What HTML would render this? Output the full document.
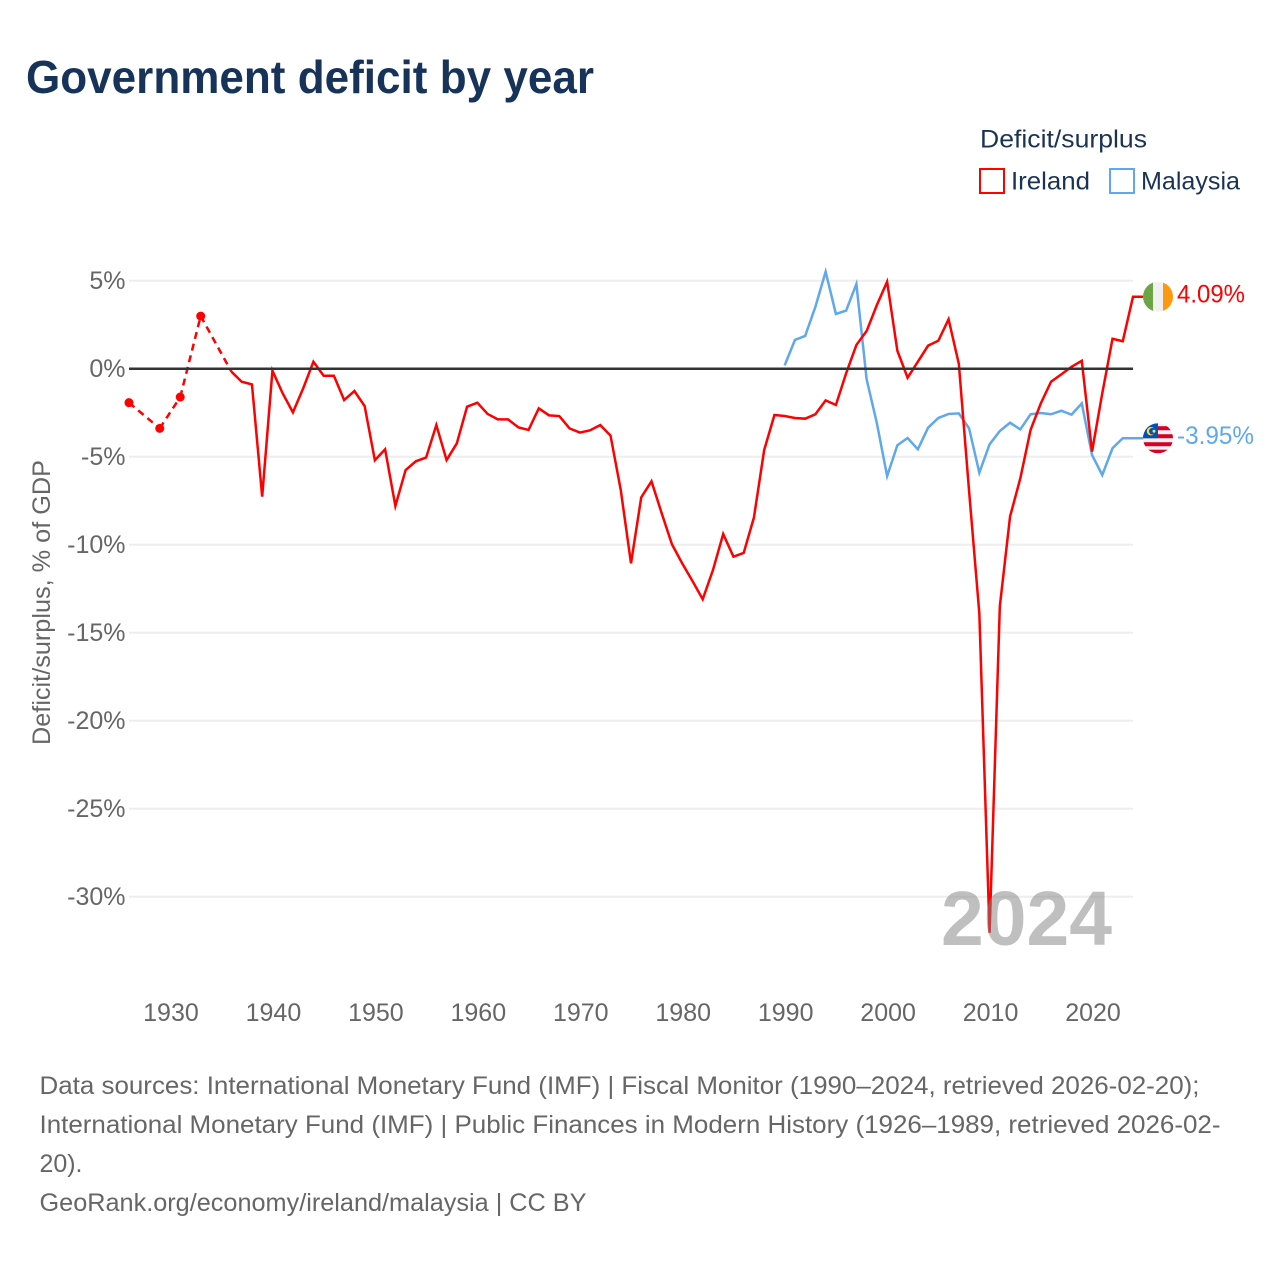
<!DOCTYPE html>
<html lang="en">
<head>
<meta charset="utf-8">
<title>Government deficit by year</title>
<style>
html,body{margin:0;padding:0;background:#fff;width:1280px;height:1280px;overflow:hidden}
svg{display:block}
text{font-family:"Liberation Sans",sans-serif}
.tick{font-size:25px;fill:#666}
.src{font-size:25px;fill:#666}
.leg{font-size:25px;fill:#1a3355}
</style>
</head>
<body>
<svg id="chart" width="1280" height="1280" viewBox="0 0 1280 1280" xmlns="http://www.w3.org/2000/svg">
  <defs>
    <clipPath id="clip-ie"><circle cx="0" cy="0" r="15"/></clipPath>
    <clipPath id="clip-my"><circle cx="0" cy="0" r="15"/></clipPath>
  </defs>
  <text x="26" y="93" font-size="46" font-weight="700" fill="#17335a" textLength="568" lengthAdjust="spacingAndGlyphs">Government deficit by year</text>

  <g>
    <text class="leg" x="980" y="147.5" textLength="167" lengthAdjust="spacingAndGlyphs">Deficit/surplus</text>
    <g>
      <rect x="980" y="169" width="24" height="24" fill="none" stroke="#ff0000" stroke-width="2"/>
      <text class="leg" x="1011" y="189.5" textLength="79" lengthAdjust="spacingAndGlyphs">Ireland</text>
    </g>
    <g>
      <rect x="1110" y="169" width="24" height="24" fill="none" stroke="#5fa8ea" stroke-width="2"/>
      <text class="leg" x="1141" y="189.5" textLength="99" lengthAdjust="spacingAndGlyphs">Malaysia</text>
    </g>
  </g>

  <text transform="translate(50,745) rotate(-90)" font-size="25" fill="#666" textLength="285" lengthAdjust="spacingAndGlyphs">Deficit/surplus, % of GDP</text>

  <g id="grid"></g>
  <g id="yticks"></g>
  <g id="xticks"></g>
  <g id="series"></g>
  <line id="zero" stroke="#333" stroke-width="2.5"/>

  <text x="1112" y="945" text-anchor="end" font-size="77" font-weight="700" fill="#808080" fill-opacity="0.5" textLength="171" lengthAdjust="spacingAndGlyphs">2024</text>

  <g id="flag-ie">
    <g clip-path="url(#clip-ie)">
      <rect x="-15" y="-15" width="30" height="30" fill="#f0f0f0"/>
      <rect x="-15" y="-15" width="10" height="30" fill="#6da544"/>
      <rect x="5" y="-15" width="10" height="30" fill="#ff9811"/>
    </g>
  </g>
  <g id="flag-my">
    <g clip-path="url(#clip-my)">
      <rect x="-15" y="-15" width="30" height="30" fill="#f0f0f0"/>
      <rect x="-15" y="-12" width="30" height="4" fill="#d80027"/>
      <rect x="-15" y="-4" width="30" height="4" fill="#d80027"/>
      <rect x="-15" y="4" width="30" height="4" fill="#d80027"/>
      <rect x="-15" y="11.5" width="30" height="4" fill="#d80027"/>
      <rect x="-15" y="-15" width="15" height="15" fill="#0052b4"/>
      <circle cx="-7" cy="-7" r="4.2" fill="#ffda44"/>
      <circle cx="-5.6" cy="-7" r="3.4" fill="#0052b4"/>
      <circle cx="-4" cy="-7" r="1.5" fill="#ffda44"/>
    </g>
  </g>
  <text id="label-ie" x="1177" font-size="25" fill="#ff0000" textLength="68" lengthAdjust="spacingAndGlyphs"></text>
  <text id="label-my" x="1177" font-size="25" fill="#5fa8ea" textLength="77" lengthAdjust="spacingAndGlyphs"></text>

  <g>
    <text class="src" x="39.5" y="1094" textLength="1160" lengthAdjust="spacingAndGlyphs">Data sources: International Monetary Fund (IMF) | Fiscal Monitor (1990–2024, retrieved 2026-02-20);</text>
    <text class="src" x="39.5" y="1133" textLength="1181" lengthAdjust="spacingAndGlyphs">International Monetary Fund (IMF) | Public Finances in Modern History (1926–1989, retrieved 2026-02-</text>
    <text class="src" x="39.5" y="1172" textLength="43" lengthAdjust="spacingAndGlyphs">20).</text>
    <text class="src" x="39.5" y="1211" textLength="547" lengthAdjust="spacingAndGlyphs">GeoRank.org/economy/ireland/malaysia | CC BY</text>
  </g>
</svg>
<script>
const yTickValues = [5, 0, -5, -10, -15, -20, -25, -30];
const yTickLabels = ["5%", "0%", "-5%", "-10%", "-15%", "-20%", "-25%", "-30%"];
const xTickYears = [1930, 1940, 1950, 1960, 1970, 1980, 1990, 2000, 2010, 2020];
const xTickLabels = ["1930", "1940", "1950", "1960", "1970", "1980", "1990", "2000", "2010", "2020"];

const irelandYears = [1926, 1929, 1931, 1933, 1936, 1937, 1938, 1939, 1940, 1941, 1942, 1943, 1944, 1945, 1946, 1947, 1948, 1949, 1950, 1951, 1952, 1953, 1954, 1955, 1956, 1957, 1958, 1959, 1960, 1961, 1962, 1963, 1964, 1965, 1966, 1967, 1968, 1969, 1970, 1971, 1972, 1973, 1974, 1975, 1976, 1977, 1978, 1979, 1980, 1981, 1982, 1983, 1984, 1985, 1986, 1987, 1988, 1989, 1990, 1991, 1992, 1993, 1994, 1995, 1996, 1997, 1998, 1999, 2000, 2001, 2002, 2003, 2004, 2005, 2006, 2007, 2008, 2009, 2010, 2011, 2012, 2013, 2014, 2015, 2016, 2017, 2018, 2019, 2020, 2021, 2022, 2023, 2024];
const irelandValues = [-1.93, -3.39, -1.61, 2.99, -0.17, -0.74, -0.89, -7.27, -0.11, -1.4, -2.48, -1.12, 0.4, -0.4, -0.4, -1.78, -1.27, -2.12, -5.2, -4.58, -7.8, -5.76, -5.26, -5.05, -3.2, -5.19, -4.24, -2.16, -1.93, -2.57, -2.88, -2.88, -3.33, -3.48, -2.25, -2.65, -2.69, -3.39, -3.63, -3.5, -3.2, -3.8, -6.89, -11.06, -7.31, -6.4, -8.22, -9.98, -11.06, -12.06, -13.1, -11.44, -9.39, -10.68, -10.47, -8.45, -4.62, -2.63, -2.69, -2.8, -2.84, -2.59, -1.8, -2.06, -0.26, 1.35, 2.14, 3.62, 4.94, 1.02, -0.51, 0.4, 1.31, 1.59, 2.81, 0.27, -6.95, -13.9, -32.05, -13.5, -8.4, -6.23, -3.48, -1.97, -0.74, -0.32, 0.11, 0.45, -4.71, -1.4, 1.7, 1.56, 4.09];

const malaysiaYears = [1990, 1991, 1992, 1993, 1994, 1995, 1996, 1997, 1998, 1999, 2000, 2001, 2002, 2003, 2004, 2005, 2006, 2007, 2008, 2009, 2010, 2011, 2012, 2013, 2014, 2015, 2016, 2017, 2018, 2019, 2020, 2021, 2022, 2023, 2024];
const malaysiaValues = [0.19, 1.63, 1.86, 3.52, 5.51, 3.11, 3.3, 4.81, -0.6, -3.1, -6.1, -4.35, -3.94, -4.58, -3.35, -2.8, -2.57, -2.54, -3.39, -5.91, -4.3, -3.54, -3.07, -3.45, -2.59, -2.52, -2.59, -2.39, -2.61, -1.97, -4.9, -6.04, -4.52, -3.95, -3.95];

const SVGNS = "http://www.w3.org/2000/svg";
const plotLeft = 129, plotRight = 1133;
const firstYear = 1926, lastYear = 2024;
const zeroY = 368.7, pxPerPct = 17.6;
const flagCx = 1158;

function xScale(year) {
  return plotLeft + (year - firstYear) * (plotRight - plotLeft) / (lastYear - firstYear);
}
function yScale(v) {
  return zeroY - v * pxPerPct;
}
function make(tag, attrs, parent) {
  const el = document.createElementNS(SVGNS, tag);
  for (const k in attrs) el.setAttribute(k, attrs[k]);
  parent.appendChild(el);
  return el;
}

const grid = document.getElementById("grid");
const yticks = document.getElementById("yticks");
const xticks = document.getElementById("xticks");
const series = document.getElementById("series");

yTickValues.forEach(function (v, i) {
  if (v !== 0) {
    const gl = make("line", { x1: plotLeft, x2: plotRight, y1: yScale(v), y2: yScale(v), stroke: "#eeeeee", "stroke-width": 2 }, grid);
    
    
  }
  const t = make("text", { x: 125.5, y: yScale(v) + 8.3, "text-anchor": "end", class: "tick" }, yticks);
  t.textContent = yTickLabels[i];
  
  
});

xTickYears.forEach(function (yr, i) {
  const t = make("text", { x: xScale(yr) + 1, y: 1021, "text-anchor": "middle", class: "tick" }, xticks);
  t.textContent = xTickLabels[i];
  
  
});

const zero = document.getElementById("zero");
zero.setAttribute("x1", plotLeft);
zero.setAttribute("x2", plotRight);
zero.setAttribute("y1", yScale(0));
zero.setAttribute("y2", yScale(0));

function drawSeries(years, values, color, name) {
  const g = make("g", {}, series);
  
  
  let solid = "";
  let dashed = "";
  for (let i = 0; i < years.length; i++) {
    const px = xScale(years[i]).toFixed(2) + " " + yScale(values[i]).toFixed(2);
    if (i === 0) continue;
    const prev = xScale(years[i - 1]).toFixed(2) + " " + yScale(values[i - 1]).toFixed(2);
    if (years[i] - years[i - 1] === 1) {
      solid += (solid ? "L" + px : "M" + prev + "L" + px);
    } else {
      dashed += "M" + prev + "L" + px;
    }
  }
  const lastX = xScale(years[years.length - 1]);
  const lastY = yScale(values[values.length - 1]);
  solid += "L" + flagCx + " " + lastY.toFixed(2);
  if (dashed) {
    const d = make("path", { d: dashed, fill: "none", stroke: color, "stroke-width": 2.5, "stroke-dasharray": "7 5" }, g);
    
    
  }
  const s = make("path", { d: solid, fill: "none", stroke: color, "stroke-width": 2.5, "stroke-linejoin": "miter", "stroke-miterlimit": 6 }, g);
  
  
  years.forEach(function (yr, i) {
    const hasPrev = years.indexOf(yr - 1) !== -1;
    const hasNext = years.indexOf(yr + 1) !== -1;
    if (!hasPrev && !hasNext) {
      const c = make("circle", { cx: xScale(yr), cy: yScale(values[i]), r: 4.5, fill: color }, g);
      
      
    }
  });
  return lastY;
}

const malaysiaEndY = drawSeries(malaysiaYears, malaysiaValues, "#5fa8ea", "malaysia");
const irelandEndY = drawSeries(irelandYears, irelandValues, "#ff0000", "ireland");

document.getElementById("flag-ie").setAttribute("transform", "translate(" + flagCx + "," + irelandEndY + ")");
document.getElementById("flag-my").setAttribute("transform", "translate(" + flagCx + "," + malaysiaEndY + ")");
const labelIe = document.getElementById("label-ie");
labelIe.setAttribute("y", irelandEndY + 6);
labelIe.textContent = irelandValues[irelandValues.length - 1].toFixed(2) + "%";
const labelMy = document.getElementById("label-my");
labelMy.setAttribute("y", malaysiaEndY + 6);
labelMy.textContent = malaysiaValues[malaysiaValues.length - 1].toFixed(2) + "%";
</script>
</body>
</html>
